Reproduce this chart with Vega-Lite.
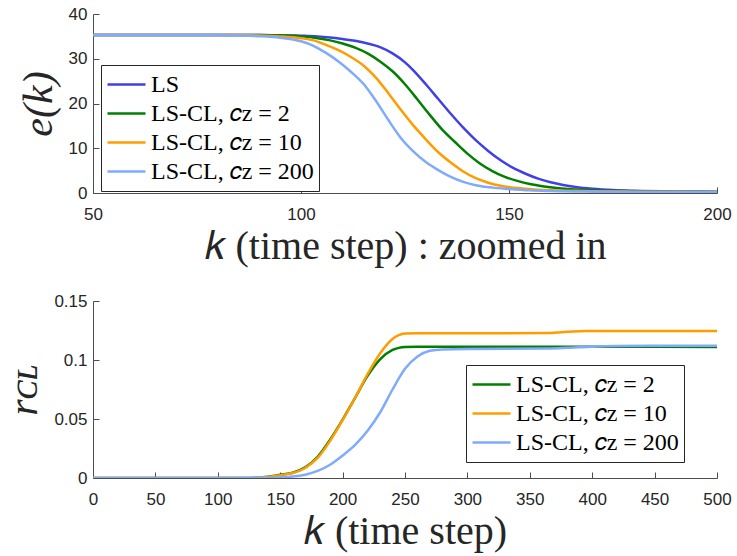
{
  "$schema": "https://vega.github.io/schema/vega-lite/v6.json",
  "background": "white",
  "padding": {"left": 2, "top": 5, "right": 22, "bottom": 5},
  "config": {
    "view": {"stroke": null},
    "font": "Liberation Sans",
    "axis": {
      "grid": false,
      "domainColor": "#4d4d4d",
      "tickColor": "#4d4d4d",
      "domainWidth": 1,
      "tickWidth": 1,
      "tickSize": -6,
      "labelPadding": 12,
      "labelColor": "#262626",
      "labelFont": "Liberation Sans",
      "labelFontSize": 17,
      "labelFlush": false,
      "labelOverlap": false,
      "titleFont": "Liberation Serif",
      "titleFontWeight": "normal",
      "titleFontSize": 40,
      "titleColor": "#262626"
    },
    "axisX": {"labelPadding": 19, "titlePadding": 4},
    "axisY": {"titleFontSize": 42, "titlePadding": 8},
    "legend": {
      "orient": "none",
      "title": null,
      "strokeColor": "#262626",
      "fillColor": "white",
      "padding": 5,
      "symbolType": "stroke",
      "symbolSize": 1444,
      "symbolStrokeWidth": 2.5,
      "labelFont": "Liberation Serif",
      "labelFontSize": 24,
      "labelColor": "#000000",
      "labelLimit": 400,
      "rowPadding": 0,
      "clipHeight": 29,
      "labelOffset": 4
    },
    "line": {"strokeWidth": 2.5, "interpolate": "monotone"}
  },
  "datasets": {
    "e": [
      {"s": "LS", "k": 50, "e": 35.3}, {"s": "LS", "k": 60, "e": 35.3}, {"s": "LS", "k": 70, "e": 35.3}, {"s": "LS", "k": 80, "e": 35.3}, {"s": "LS", "k": 90, "e": 35.3}, {"s": "LS", "k": 95, "e": 35.25}, {"s": "LS", "k": 100, "e": 35.15}, {"s": "LS", "k": 104, "e": 35.0}, {"s": "LS", "k": 107, "e": 34.75}, {"s": "LS", "k": 110, "e": 34.4}, {"s": "LS", "k": 113, "e": 34.0}, {"s": "LS", "k": 116, "e": 33.4}, {"s": "LS", "k": 119, "e": 32.6}, {"s": "LS", "k": 122, "e": 31.2}, {"s": "LS", "k": 125, "e": 29.2}, {"s": "LS", "k": 127, "e": 27.4}, {"s": "LS", "k": 130, "e": 24.3}, {"s": "LS", "k": 133, "e": 21.0}, {"s": "LS", "k": 136, "e": 17.7}, {"s": "LS", "k": 139, "e": 14.6}, {"s": "LS", "k": 142, "e": 11.8}, {"s": "LS", "k": 145, "e": 9.4}, {"s": "LS", "k": 148, "e": 7.3}, {"s": "LS", "k": 151, "e": 5.6}, {"s": "LS", "k": 154, "e": 4.3}, {"s": "LS", "k": 157, "e": 3.2}, {"s": "LS", "k": 160, "e": 2.4}, {"s": "LS", "k": 163, "e": 1.8}, {"s": "LS", "k": 166, "e": 1.35}, {"s": "LS", "k": 170, "e": 0.95}, {"s": "LS", "k": 175, "e": 0.65}, {"s": "LS", "k": 180, "e": 0.5}, {"s": "LS", "k": 190, "e": 0.35}, {"s": "LS", "k": 200, "e": 0.3},
      {"s": "LS-CL, 𝑐ᴢ = 2", "k": 50, "e": 35.3}, {"s": "LS-CL, 𝑐ᴢ = 2", "k": 70, "e": 35.3}, {"s": "LS-CL, 𝑐ᴢ = 2", "k": 80, "e": 35.3}, {"s": "LS-CL, 𝑐ᴢ = 2", "k": 90, "e": 35.28}, {"s": "LS-CL, 𝑐ᴢ = 2", "k": 95, "e": 35.2}, {"s": "LS-CL, 𝑐ᴢ = 2", "k": 100, "e": 35.0}, {"s": "LS-CL, 𝑐ᴢ = 2", "k": 104, "e": 34.6}, {"s": "LS-CL, 𝑐ᴢ = 2", "k": 107, "e": 34.1}, {"s": "LS-CL, 𝑐ᴢ = 2", "k": 110, "e": 33.4}, {"s": "LS-CL, 𝑐ᴢ = 2", "k": 113, "e": 32.5}, {"s": "LS-CL, 𝑐ᴢ = 2", "k": 116, "e": 31.2}, {"s": "LS-CL, 𝑐ᴢ = 2", "k": 119, "e": 29.4}, {"s": "LS-CL, 𝑐ᴢ = 2", "k": 122, "e": 27.2}, {"s": "LS-CL, 𝑐ᴢ = 2", "k": 125, "e": 24.3}, {"s": "LS-CL, 𝑐ᴢ = 2", "k": 128, "e": 20.9}, {"s": "LS-CL, 𝑐ᴢ = 2", "k": 131, "e": 17.4}, {"s": "LS-CL, 𝑐ᴢ = 2", "k": 134, "e": 14.1}, {"s": "LS-CL, 𝑐ᴢ = 2", "k": 137, "e": 11.4}, {"s": "LS-CL, 𝑐ᴢ = 2", "k": 140, "e": 8.8}, {"s": "LS-CL, 𝑐ᴢ = 2", "k": 143, "e": 6.6}, {"s": "LS-CL, 𝑐ᴢ = 2", "k": 146, "e": 4.9}, {"s": "LS-CL, 𝑐ᴢ = 2", "k": 149, "e": 3.6}, {"s": "LS-CL, 𝑐ᴢ = 2", "k": 152, "e": 2.7}, {"s": "LS-CL, 𝑐ᴢ = 2", "k": 155, "e": 2.0}, {"s": "LS-CL, 𝑐ᴢ = 2", "k": 158, "e": 1.5}, {"s": "LS-CL, 𝑐ᴢ = 2", "k": 162, "e": 1.05}, {"s": "LS-CL, 𝑐ᴢ = 2", "k": 166, "e": 0.8}, {"s": "LS-CL, 𝑐ᴢ = 2", "k": 170, "e": 0.6}, {"s": "LS-CL, 𝑐ᴢ = 2", "k": 180, "e": 0.4}, {"s": "LS-CL, 𝑐ᴢ = 2", "k": 190, "e": 0.3}, {"s": "LS-CL, 𝑐ᴢ = 2", "k": 200, "e": 0.25},
      {"s": "LS-CL, 𝑐ᴢ = 10", "k": 50, "e": 35.3}, {"s": "LS-CL, 𝑐ᴢ = 10", "k": 80, "e": 35.3}, {"s": "LS-CL, 𝑐ᴢ = 10", "k": 85, "e": 35.28}, {"s": "LS-CL, 𝑐ᴢ = 10", "k": 90, "e": 35.2}, {"s": "LS-CL, 𝑐ᴢ = 10", "k": 95, "e": 35.0}, {"s": "LS-CL, 𝑐ᴢ = 10", "k": 100, "e": 34.6}, {"s": "LS-CL, 𝑐ᴢ = 10", "k": 103, "e": 34.1}, {"s": "LS-CL, 𝑐ᴢ = 10", "k": 106, "e": 33.1}, {"s": "LS-CL, 𝑐ᴢ = 10", "k": 109, "e": 31.9}, {"s": "LS-CL, 𝑐ᴢ = 10", "k": 112, "e": 30.4}, {"s": "LS-CL, 𝑐ᴢ = 10", "k": 115, "e": 28.5}, {"s": "LS-CL, 𝑐ᴢ = 10", "k": 118, "e": 25.8}, {"s": "LS-CL, 𝑐ᴢ = 10", "k": 121, "e": 22.3}, {"s": "LS-CL, 𝑐ᴢ = 10", "k": 124, "e": 18.6}, {"s": "LS-CL, 𝑐ᴢ = 10", "k": 127, "e": 15.1}, {"s": "LS-CL, 𝑐ᴢ = 10", "k": 130, "e": 12.0}, {"s": "LS-CL, 𝑐ᴢ = 10", "k": 133, "e": 9.1}, {"s": "LS-CL, 𝑐ᴢ = 10", "k": 136, "e": 6.8}, {"s": "LS-CL, 𝑐ᴢ = 10", "k": 139, "e": 4.8}, {"s": "LS-CL, 𝑐ᴢ = 10", "k": 142, "e": 3.3}, {"s": "LS-CL, 𝑐ᴢ = 10", "k": 145, "e": 2.3}, {"s": "LS-CL, 𝑐ᴢ = 10", "k": 148, "e": 1.6}, {"s": "LS-CL, 𝑐ᴢ = 10", "k": 152, "e": 1.1}, {"s": "LS-CL, 𝑐ᴢ = 10", "k": 156, "e": 0.8}, {"s": "LS-CL, 𝑐ᴢ = 10", "k": 160, "e": 0.6}, {"s": "LS-CL, 𝑐ᴢ = 10", "k": 170, "e": 0.4}, {"s": "LS-CL, 𝑐ᴢ = 10", "k": 180, "e": 0.3}, {"s": "LS-CL, 𝑐ᴢ = 10", "k": 200, "e": 0.25},
      {"s": "LS-CL, 𝑐ᴢ = 200", "k": 50, "e": 35.3}, {"s": "LS-CL, 𝑐ᴢ = 200", "k": 75, "e": 35.3}, {"s": "LS-CL, 𝑐ᴢ = 200", "k": 80, "e": 35.28}, {"s": "LS-CL, 𝑐ᴢ = 200", "k": 85, "e": 35.22}, {"s": "LS-CL, 𝑐ᴢ = 200", "k": 90, "e": 35.05}, {"s": "LS-CL, 𝑐ᴢ = 200", "k": 95, "e": 34.7}, {"s": "LS-CL, 𝑐ᴢ = 200", "k": 100, "e": 33.9}, {"s": "LS-CL, 𝑐ᴢ = 200", "k": 103, "e": 32.9}, {"s": "LS-CL, 𝑐ᴢ = 200", "k": 106, "e": 31.3}, {"s": "LS-CL, 𝑐ᴢ = 200", "k": 109, "e": 29.4}, {"s": "LS-CL, 𝑐ᴢ = 200", "k": 112, "e": 27.1}, {"s": "LS-CL, 𝑐ᴢ = 200", "k": 115, "e": 24.4}, {"s": "LS-CL, 𝑐ᴢ = 200", "k": 118, "e": 20.6}, {"s": "LS-CL, 𝑐ᴢ = 200", "k": 121, "e": 16.3}, {"s": "LS-CL, 𝑐ᴢ = 200", "k": 124, "e": 12.3}, {"s": "LS-CL, 𝑐ᴢ = 200", "k": 127, "e": 9.3}, {"s": "LS-CL, 𝑐ᴢ = 200", "k": 130, "e": 6.9}, {"s": "LS-CL, 𝑐ᴢ = 200", "k": 133, "e": 5.1}, {"s": "LS-CL, 𝑐ᴢ = 200", "k": 136, "e": 3.6}, {"s": "LS-CL, 𝑐ᴢ = 200", "k": 139, "e": 2.5}, {"s": "LS-CL, 𝑐ᴢ = 200", "k": 142, "e": 1.75}, {"s": "LS-CL, 𝑐ᴢ = 200", "k": 146, "e": 1.2}, {"s": "LS-CL, 𝑐ᴢ = 200", "k": 150, "e": 0.9}, {"s": "LS-CL, 𝑐ᴢ = 200", "k": 155, "e": 0.6}, {"s": "LS-CL, 𝑐ᴢ = 200", "k": 160, "e": 0.45}, {"s": "LS-CL, 𝑐ᴢ = 200", "k": 170, "e": 0.3}, {"s": "LS-CL, 𝑐ᴢ = 200", "k": 185, "e": 0.22}, {"s": "LS-CL, 𝑐ᴢ = 200", "k": 200, "e": 0.2}
    ],
    "r": [
      {"s": "LS-CL, 𝑐ᴢ = 2", "k": 0, "r": 0}, {"s": "LS-CL, 𝑐ᴢ = 2", "k": 50, "r": 0}, {"s": "LS-CL, 𝑐ᴢ = 2", "k": 100, "r": 0}, {"s": "LS-CL, 𝑐ᴢ = 2", "k": 120, "r": 0.0001}, {"s": "LS-CL, 𝑐ᴢ = 2", "k": 130, "r": 0.0003}, {"s": "LS-CL, 𝑐ᴢ = 2", "k": 140, "r": 0.001}, {"s": "LS-CL, 𝑐ᴢ = 2", "k": 150, "r": 0.0027}, {"s": "LS-CL, 𝑐ᴢ = 2", "k": 160, "r": 0.0045}, {"s": "LS-CL, 𝑐ᴢ = 2", "k": 170, "r": 0.009}, {"s": "LS-CL, 𝑐ᴢ = 2", "k": 180, "r": 0.018}, {"s": "LS-CL, 𝑐ᴢ = 2", "k": 190, "r": 0.0325}, {"s": "LS-CL, 𝑐ᴢ = 2", "k": 200, "r": 0.0495}, {"s": "LS-CL, 𝑐ᴢ = 2", "k": 210, "r": 0.068}, {"s": "LS-CL, 𝑐ᴢ = 2", "k": 220, "r": 0.0865}, {"s": "LS-CL, 𝑐ᴢ = 2", "k": 230, "r": 0.1005}, {"s": "LS-CL, 𝑐ᴢ = 2", "k": 240, "r": 0.1085}, {"s": "LS-CL, 𝑐ᴢ = 2", "k": 245, "r": 0.1103}, {"s": "LS-CL, 𝑐ᴢ = 2", "k": 250, "r": 0.1111}, {"s": "LS-CL, 𝑐ᴢ = 2", "k": 260, "r": 0.1113}, {"s": "LS-CL, 𝑐ᴢ = 2", "k": 300, "r": 0.1113}, {"s": "LS-CL, 𝑐ᴢ = 2", "k": 400, "r": 0.1112}, {"s": "LS-CL, 𝑐ᴢ = 2", "k": 500, "r": 0.1111},
      {"s": "LS-CL, 𝑐ᴢ = 10", "k": 0, "r": 0}, {"s": "LS-CL, 𝑐ᴢ = 10", "k": 50, "r": 0}, {"s": "LS-CL, 𝑐ᴢ = 10", "k": 100, "r": 0}, {"s": "LS-CL, 𝑐ᴢ = 10", "k": 120, "r": 0.0001}, {"s": "LS-CL, 𝑐ᴢ = 10", "k": 130, "r": 0.0003}, {"s": "LS-CL, 𝑐ᴢ = 10", "k": 140, "r": 0.0009}, {"s": "LS-CL, 𝑐ᴢ = 10", "k": 150, "r": 0.0024}, {"s": "LS-CL, 𝑐ᴢ = 10", "k": 160, "r": 0.0042}, {"s": "LS-CL, 𝑐ᴢ = 10", "k": 170, "r": 0.0085}, {"s": "LS-CL, 𝑐ᴢ = 10", "k": 180, "r": 0.017}, {"s": "LS-CL, 𝑐ᴢ = 10", "k": 190, "r": 0.0315}, {"s": "LS-CL, 𝑐ᴢ = 10", "k": 200, "r": 0.049}, {"s": "LS-CL, 𝑐ᴢ = 10", "k": 210, "r": 0.068}, {"s": "LS-CL, 𝑐ᴢ = 10", "k": 220, "r": 0.088}, {"s": "LS-CL, 𝑐ᴢ = 10", "k": 230, "r": 0.1055}, {"s": "LS-CL, 𝑐ᴢ = 10", "k": 240, "r": 0.1178}, {"s": "LS-CL, 𝑐ᴢ = 10", "k": 245, "r": 0.121}, {"s": "LS-CL, 𝑐ᴢ = 10", "k": 250, "r": 0.1224}, {"s": "LS-CL, 𝑐ᴢ = 10", "k": 260, "r": 0.1227}, {"s": "LS-CL, 𝑐ᴢ = 10", "k": 300, "r": 0.1227}, {"s": "LS-CL, 𝑐ᴢ = 10", "k": 365, "r": 0.1228}, {"s": "LS-CL, 𝑐ᴢ = 10", "k": 375, "r": 0.1236}, {"s": "LS-CL, 𝑐ᴢ = 10", "k": 385, "r": 0.1242}, {"s": "LS-CL, 𝑐ᴢ = 10", "k": 395, "r": 0.1245}, {"s": "LS-CL, 𝑐ᴢ = 10", "k": 420, "r": 0.1246}, {"s": "LS-CL, 𝑐ᴢ = 10", "k": 500, "r": 0.1246},
      {"s": "LS-CL, 𝑐ᴢ = 200", "k": 0, "r": 0}, {"s": "LS-CL, 𝑐ᴢ = 200", "k": 100, "r": 0}, {"s": "LS-CL, 𝑐ᴢ = 200", "k": 140, "r": 0.0002}, {"s": "LS-CL, 𝑐ᴢ = 200", "k": 150, "r": 0.0005}, {"s": "LS-CL, 𝑐ᴢ = 200", "k": 160, "r": 0.0012}, {"s": "LS-CL, 𝑐ᴢ = 200", "k": 170, "r": 0.0028}, {"s": "LS-CL, 𝑐ᴢ = 200", "k": 180, "r": 0.006}, {"s": "LS-CL, 𝑐ᴢ = 200", "k": 190, "r": 0.0112}, {"s": "LS-CL, 𝑐ᴢ = 200", "k": 200, "r": 0.019}, {"s": "LS-CL, 𝑐ᴢ = 200", "k": 210, "r": 0.028}, {"s": "LS-CL, 𝑐ᴢ = 200", "k": 220, "r": 0.04}, {"s": "LS-CL, 𝑐ᴢ = 200", "k": 230, "r": 0.0555}, {"s": "LS-CL, 𝑐ᴢ = 200", "k": 240, "r": 0.075}, {"s": "LS-CL, 𝑐ᴢ = 200", "k": 250, "r": 0.0925}, {"s": "LS-CL, 𝑐ᴢ = 200", "k": 260, "r": 0.103}, {"s": "LS-CL, 𝑐ᴢ = 200", "k": 270, "r": 0.1078}, {"s": "LS-CL, 𝑐ᴢ = 200", "k": 280, "r": 0.109}, {"s": "LS-CL, 𝑐ᴢ = 200", "k": 300, "r": 0.1094}, {"s": "LS-CL, 𝑐ᴢ = 200", "k": 365, "r": 0.1097}, {"s": "LS-CL, 𝑐ᴢ = 200", "k": 380, "r": 0.1103}, {"s": "LS-CL, 𝑐ᴢ = 200", "k": 400, "r": 0.1113}, {"s": "LS-CL, 𝑐ᴢ = 200", "k": 420, "r": 0.1118}, {"s": "LS-CL, 𝑐ᴢ = 200", "k": 450, "r": 0.112}, {"s": "LS-CL, 𝑐ᴢ = 200", "k": 500, "r": 0.1121}
    ]
  },
  "spacing": 26,
  "resolve": {"scale": {"color": "independent"}, "legend": {"color": "independent"}},
  "vconcat": [
    {
      "width": 624,
      "height": 179,
      "data": {"name": "e"},
      "mark": {"type": "line", "clip": true},
      "encoding": {
        "x": {"field": "k", "type": "quantitative", "scale": {"domain": [50, 200], "nice": false, "zero": false},
          "axis": {"values": [50, 100, 150, 200], "title": "𝑘 (time step) : zoomed in"}},
        "y": {"field": "e", "type": "quantitative", "scale": {"domain": [0, 40], "nice": false},
          "axis": {"values": [0, 10, 20, 30, 40], "title": "e(k)", "titleFontStyle": "italic"}},
        "color": {"field": "s", "type": "nominal",
          "scale": {"domain": ["LS", "LS-CL, 𝑐ᴢ = 2", "LS-CL, 𝑐ᴢ = 10", "LS-CL, 𝑐ᴢ = 200"], "range": ["#4040e6", "#007f00", "#ff9c00", "#80aaff"]},
          "legend": {"legendX": 8, "legendY": 51}}
      }
    },
    {
      "width": 624,
      "height": 177,
      "data": {"name": "r"},
      "mark": {"type": "line", "clip": true},
      "encoding": {
        "x": {"field": "k", "type": "quantitative", "scale": {"domain": [0, 500], "nice": false},
          "axis": {"values": [0, 50, 100, 150, 200, 250, 300, 350, 400, 450, 500], "title": "𝑘 (time step)"}},
        "y": {"field": "r", "type": "quantitative", "scale": {"domain": [0, 0.15], "nice": false},
          "axis": {"values": [0, 0.05, 0.1, 0.15], "format": ".2~f", "title": "rᴄʟ", "titleFontStyle": "italic"}},
        "color": {"field": "s", "type": "nominal",
          "scale": {"domain": ["LS-CL, 𝑐ᴢ = 2", "LS-CL, 𝑐ᴢ = 10", "LS-CL, 𝑐ᴢ = 200"], "range": ["#007f00", "#ff9c00", "#80aaff"]},
          "legend": {"legendX": 373, "legendY": 64}}
      }
    }
  ]
}
